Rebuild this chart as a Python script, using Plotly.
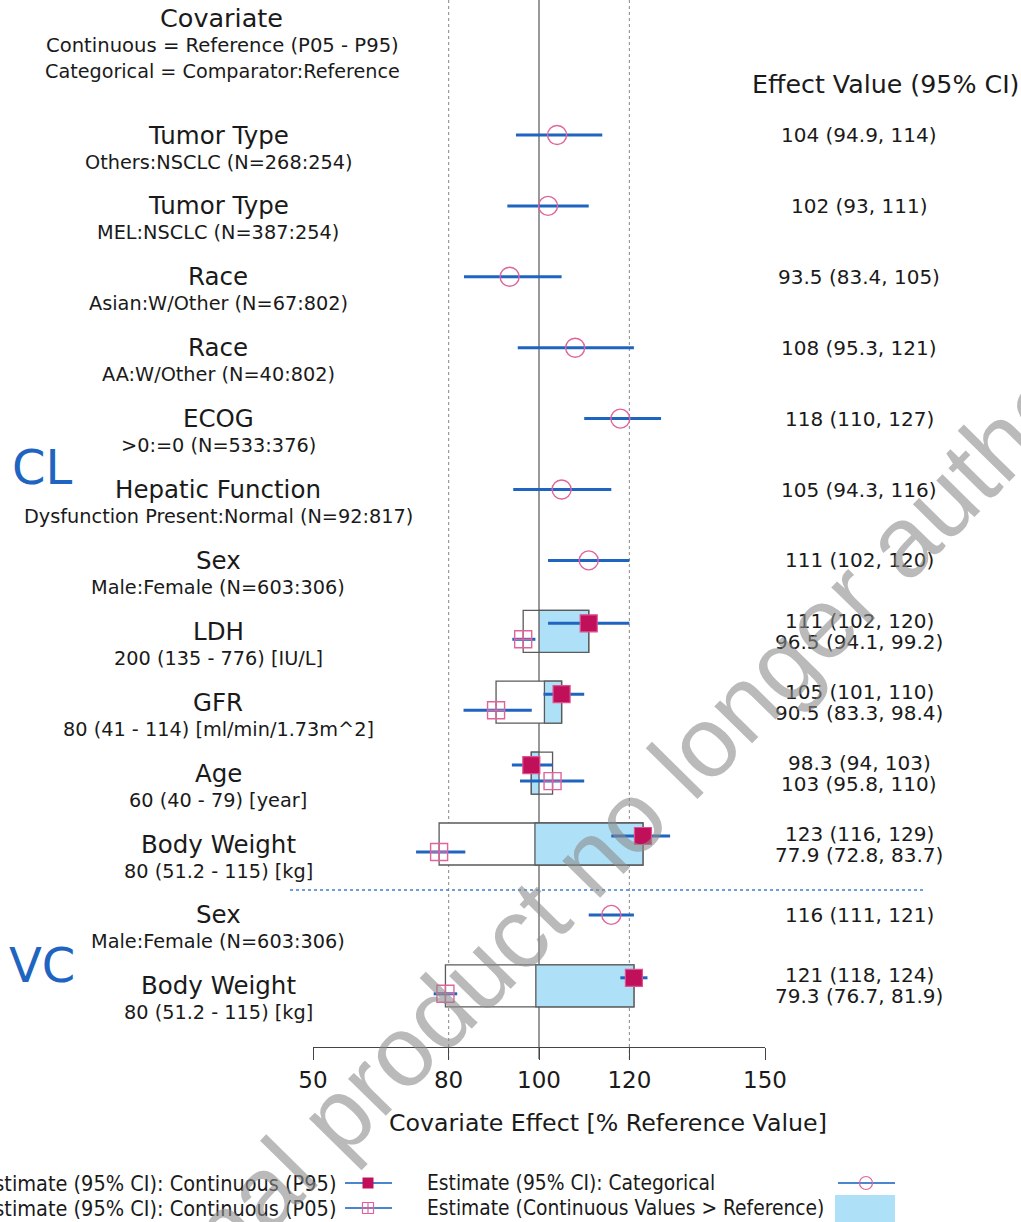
import plotly.graph_objects as go

# ---------------- data ----------------
row_titles = ["Tumor Type", "Tumor Type", "Race", "Race", "ECOG", "Hepatic Function",
              "Sex", "LDH", "GFR", "Age", "Body Weight", "Sex", "Body Weight"]
row_subtitles = ["Others:NSCLC (N=268:254)", "MEL:NSCLC (N=387:254)",
                 "Asian:W/Other (N=67:802)", "AA:W/Other (N=40:802)",
                 ">0:=0 (N=533:376)", "Dysfunction Present:Normal (N=92:817)",
                 "Male:Female (N=603:306)", "200 (135 - 776) [IU/L]",
                 "80 (41 - 114) [ml/min/1.73m^2]", "60 (40 - 79) [year]",
                 "80 (51.2 - 115) [kg]", "Male:Female (N=603:306)",
                 "80 (51.2 - 115) [kg]"]
param_groups = ["CL", "VC"]

# categorical covariates: row index, estimate and 95% CI
cat_rows = [0, 1, 2, 3, 4, 5, 6, 11]
cat_est = [104, 102, 93.5, 108, 118, 105, 111, 116]
cat_lo = [94.9, 93, 83.4, 95.3, 110, 94.3, 102, 111]
cat_hi = [114, 111, 105, 121, 127, 116, 120, 121]

# continuous covariates: row index, P95 / P05 estimates with 95% CI
cont_rows = [7, 8, 9, 10, 12]
p95_est = [111, 105, 98.3, 123, 121]
p95_lo = [102, 101, 94, 116, 118]
p95_hi = [120, 110, 103, 129, 124]
p05_est = [96.5, 90.5, 103, 77.9, 79.3]
p05_lo = [94.1, 83.3, 95.8, 72.8, 76.7]
p05_hi = [99.2, 98.4, 110, 83.7, 81.9]
ref_est = [100, 101.2, 100, 99.1, 99.3]   # effect at the reference value

x_ticks = [50, 80, 100, 120, 150]
x_range = [50, 150]

# ---------------- layout geometry ----------------
W, H = 1021, 1222
ROW0_PX, ROW_PX = 135, 70.9          # first row centre and row pitch (px)
AXIS_PX = 1047                       # x-axis line position (px)
X0_PX, X1_PX = 313, 765              # x-axis span (px)

def px(v):          # pixel offset -> row units
    return v / ROW_PX

def py_paper(p):    # pixel row -> paper y
    return 1 - p / H

def px_paper(p):    # pixel column -> paper x
    return p / W

BLUE = "#1f64c0"
PINK = "#e0649a"
CRIMSON = "#c0105a"
FILL = "#aee0f8"
BOXLINE = "#5a5a5a"
FONT = "DejaVu Sans"
TXT = "#1a1a1a"

fig = go.Figure()

# ---- boxes for continuous covariates ----
shapes = []
half = px(21)
for r, e95, e05, ref in zip(cont_rows, p95_est, p05_est, ref_est):
    shapes.append(dict(type="rect", xref="x", yref="y", layer="below",
                       x0=min(e95, e05), x1=max(e95, e05), y0=r - half, y1=r + half,
                       fillcolor="white", line=dict(color=BOXLINE, width=1.3)))
    shapes.append(dict(type="rect", xref="x", yref="y", layer="below",
                       x0=ref, x1=e95, y0=r - half, y1=r + half,
                       fillcolor=FILL, line=dict(color=BOXLINE, width=1.3)))

# ---- reference lines ----
shapes.append(dict(type="line", xref="x", yref="y domain", layer="below",
                   x0=100, x1=100, y0=-12 / (AXIS_PX), y1=1,
                   line=dict(color="#555555", width=1.2)))
for v in (80, 120):
    shapes.append(dict(type="line", xref="x", yref="y domain", layer="below",
                       x0=v, x1=v, y0=-12 / (AXIS_PX), y1=1,
                       line=dict(color="#9a9a9a", width=1.2, dash="dot")))

# ---- separator between CL and VC ----
sep_y = cont_rows[3] + px(46)
shapes.append(dict(type="line", xref="paper", yref="y",
                   x0=px_paper(290), x1=px_paper(925), y0=sep_y, y1=sep_y,
                   line=dict(color="#3c7fd0", width=1.6, dash="dot")))

# ---- CI lines ----
def ci_segments(rows, lo, hi, dy=0.0):
    xs, ys = [], []
    for r, a, b in zip(rows, lo, hi):
        xs += [a, b, None]
        ys += [r + dy, r + dy, None]
    return xs, ys

off = px(8)
for rows, lo, hi, dy in [(cat_rows, cat_lo, cat_hi, 0.0),
                         (cont_rows, p95_lo, p95_hi, -off),
                         (cont_rows, p05_lo, p05_hi, off)]:
    xs, ys = ci_segments(rows, lo, hi, dy)
    fig.add_trace(go.Scatter(x=xs, y=ys, mode="lines", showlegend=False,
                             line=dict(color=BLUE, width=3), hoverinfo="skip"))

# ---- point estimates ----
fig.add_trace(go.Scatter(x=cat_est, y=cat_rows, mode="markers", showlegend=False,
                         marker=dict(symbol="circle-open", size=19, color=PINK,
                                     line=dict(width=1.4, color=PINK))))
fig.add_trace(go.Scatter(x=p95_est, y=[r - off for r in cont_rows], mode="markers",
                         showlegend=False,
                         marker=dict(symbol="square", size=17, color=CRIMSON,
                                     line=dict(width=1.2, color="#e05090"))))
fig.add_trace(go.Scatter(x=p05_est, y=[r + off for r in cont_rows], mode="markers",
                         showlegend=False,
                         marker=dict(symbol="square-cross-open", size=17, color=PINK,
                                     line=dict(width=1.4, color=PINK))))

# ---------------- text ----------------
ann = []
LABEL_X = px_paper(218)
for i, (t, s) in enumerate(zip(row_titles, row_subtitles)):
    ann.append(dict(x=LABEL_X, y=i, xref="paper", yref="y", text=t, showarrow=False,
                    font=dict(family=FONT, size=24.5, color=TXT), xanchor="center",
                    yanchor="middle"))
    ann.append(dict(x=LABEL_X, y=i + px(27), xref="paper", yref="y", text=s,
                    showarrow=False, font=dict(family=FONT, size=19.3, color=TXT),
                    xanchor="center", yanchor="middle"))

VAL_X = px_paper(859)
fmt = lambda e, a, b: f"{e:g} ({a:g}, {b:g})"
VAL_FONT = dict(family=FONT, size=20, color=TXT)
for r, e, a, b in zip(cat_rows, cat_est, cat_lo, cat_hi):
    ann.append(dict(x=VAL_X, y=r, xref="paper", yref="y", text=fmt(e, a, b),
                    showarrow=False, font=VAL_FONT, xanchor="center", yanchor="middle"))
for k, r in enumerate(cont_rows):
    ann.append(dict(x=VAL_X, y=r - px(10.5), xref="paper", yref="y",
                    text=fmt(p95_est[k], p95_lo[k], p95_hi[k]), showarrow=False,
                    font=VAL_FONT, xanchor="center", yanchor="middle"))
    ann.append(dict(x=VAL_X, y=r + px(10.5), xref="paper", yref="y",
                    text=fmt(p05_est[k], p05_lo[k], p05_hi[k]), showarrow=False,
                    font=VAL_FONT, xanchor="center", yanchor="middle"))

# headers
ann += [
    dict(x=px_paper(221), y=py_paper(18), text="Covariate", font=dict(size=25.5)),
    dict(x=px_paper(222), y=py_paper(45), text="Continuous = Reference (P05 - P95)",
         font=dict(size=19.6)),
    dict(x=px_paper(222), y=py_paper(72), text="Categorical = Comparator:Reference",
         font=dict(size=19.2)),
    dict(x=px_paper(885), y=py_paper(84), text="Effect Value (95% CI)", font=dict(size=25.3)),
    dict(x=px_paper(608), y=py_paper(1123), text="Covariate Effect [% Reference Value]",
         font=dict(size=23.7)),
    dict(x=px_paper(42), y=py_paper(467), text=param_groups[0],
         font=dict(size=48, color=BLUE)),
    dict(x=px_paper(42), y=py_paper(965), text=param_groups[1],
         font=dict(size=48, color=BLUE)),
]
for a in ann[-7:]:
    a.update(xref="paper", yref="paper", showarrow=False, xanchor="center",
             yanchor="middle")
    a["font"].setdefault("color", TXT)
    a["font"]["family"] = FONT

# ---------------- legend (drawn on a pixel-scaled overlay axis) ----------------
LEG_FAMILY = "DejaVu Sans Condensed, DejaVu Sans"
leg_rows = [1183, 1208]
leg_items = [
    (338, leg_rows[0], "Estimate (95% CI): Continuous (P95)", "right", 21.5),
    (338, leg_rows[1], "Estimate (95% CI): Continuous (P05)", "right", 21.5),
    (425, leg_rows[0], "Estimate (95% CI): Categorical", "left", 20.8),
    (425, leg_rows[1], "Estimate (Continuous Values > Reference)", "left", 20.8),
]
for lx, ly, text, anchor, size in leg_items:
    ann.append(dict(x=px_paper(lx), y=py_paper(ly), text=text, xanchor=anchor,
                    xref="paper", yref="paper", showarrow=False, yanchor="middle",
                    font=dict(family=LEG_FAMILY, size=size, color=TXT)))

for (xa, xb, yy) in [(345, 392, leg_rows[0]), (345, 392, leg_rows[1]), (838, 895, leg_rows[0])]:
    fig.add_trace(go.Scatter(x=[xa, xb], y=[yy, yy], mode="lines", xaxis="x2", yaxis="y2",
                             showlegend=False, line=dict(color="#4a86d0", width=2),
                             hoverinfo="skip"))
fig.add_trace(go.Scatter(x=[368], y=[leg_rows[0]], mode="markers", xaxis="x2", yaxis="y2",
                         showlegend=False,
                         marker=dict(symbol="square", size=11, color=CRIMSON)))
fig.add_trace(go.Scatter(x=[368], y=[leg_rows[1]], mode="markers", xaxis="x2", yaxis="y2",
                         showlegend=False,
                         marker=dict(symbol="square-cross-open", size=11, color=PINK,
                                     line=dict(width=1.2))))
fig.add_trace(go.Scatter(x=[866], y=[leg_rows[0]], mode="markers", xaxis="x2", yaxis="y2",
                         showlegend=False,
                         marker=dict(symbol="circle-open", size=13, color=PINK,
                                     line=dict(width=1.2))))
shapes.append(dict(type="rect", xref="x2", yref="y2", x0=835, x1=895, y0=1195, y1=1222,
                   fillcolor=FILL, line=dict(width=0)))

# watermark
ann.append(dict(x=px_paper(605), y=py_paper(843), xref="paper", yref="paper",
                text="Medicinal product no longer authorised", showarrow=False,
                textangle=-45.5, font=dict(family="Liberation Sans", size=100,
                                           color="rgba(140,140,140,0.6)"),
                xanchor="center", yanchor="middle"))

fig.update_layout(
    width=W, height=H, margin=dict(l=0, r=0, t=0, b=0, autoexpand=False),
    paper_bgcolor="white", plot_bgcolor="rgba(0,0,0,0)",
    showlegend=False, shapes=shapes, annotations=ann,
    xaxis=dict(domain=[px_paper(X0_PX), px_paper(X1_PX)], range=x_range,
               tickvals=x_ticks, ticks="outside", ticklen=12, tickcolor="#444",
               showline=True, linecolor="#444", linewidth=1.2, showgrid=False,
               zeroline=False, tickfont=dict(family=FONT, size=23, color=TXT)),
    yaxis=dict(domain=[1 - AXIS_PX / H, 1],
               range=[(AXIS_PX - ROW0_PX) / ROW_PX, -ROW0_PX / ROW_PX],
               visible=False),
    xaxis2=dict(domain=[0, 1], range=[0, W], visible=False, anchor="y2"),
    yaxis2=dict(domain=[0, 1], range=[H, 0], visible=False, anchor="x2"),
)

fig.write_html("out.html")
